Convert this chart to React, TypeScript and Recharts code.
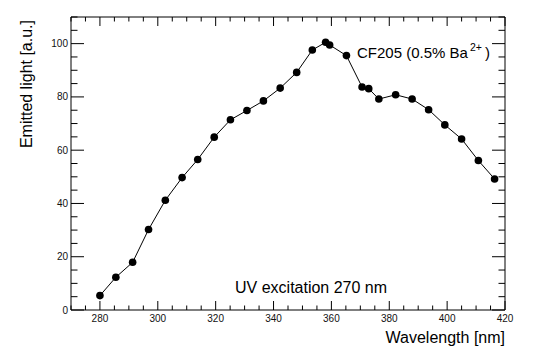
import { LineChart, Line, XAxis, YAxis } from "recharts";

// emission spectrum
const wavelength = [
  280, 285.5, 291.3, 296.8, 302.6, 308.4, 313.8, 319.5, 325.1, 330.8, 336.5, 342.3, 348.0, 353.4,
  358.0, 359.4, 365.2, 370.6, 372.9, 376.4, 382.2, 387.9, 393.6, 399.2, 405.0, 410.8, 416.4,
];
const emitted = [
  5.4, 12.3, 17.9, 30.2, 41.2, 49.7, 56.5, 64.9, 71.4, 74.9, 78.5, 83.3, 89.2, 97.6,
  100.5, 99.5, 95.5, 83.7, 83.1, 79.2, 80.8, 79.2, 75.2, 69.5, 64.2, 56.1, 49.2,
];

// every 5 units; multiples of 20 get a label and a long tick
const xTicks = [
  270, 275, 280, 285, 290, 295, 300, 305, 310, 315, 320, 325, 330, 335, 340, 345, 350, 355, 360,
  365, 370, 375, 380, 385, 390, 395, 400, 405, 410, 415, 420,
];
const yTicks = [0, 5, 10, 15, 20, 25, 30, 35, 40, 45, 50, 55, 60, 65, 70, 75, 80, 85, 90, 95, 100, 105, 110];

const data = wavelength.map((w, i) => ({ w, v: emitted[i] }));

const font = "'Liberation Sans', Arial, Helvetica, sans-serif";
const xDomain = [270, 420];
const yDomain = [0, 110];
const isMajor = (v: number) => v % 20 === 0;

// ROOT draws ticks inward; side says where the axis sits
function Tick(props: any) {
  const { x, y, payload, side } = props;
  const v = payload.value;
  const major = isMajor(v);
  const xl = major ? 9 : 4.5;
  const yl = major ? 13 : 6.5;
  let d = "";
  if (side === "b") d = `M${x},${y}L${x},${y - xl}`;
  if (side === "t") d = `M${x},${y}L${x},${y + xl}`;
  if (side === "l") d = `M${x},${y}L${x + yl},${y}`;
  if (side === "r") d = `M${x},${y}L${x - yl},${y}`;
  return (
    <g>
      <path d={d} stroke="#000" strokeWidth={1} fill="none" />
      {major && side === "b" && v !== 270 && (
        <text x={x} y={y + 12} textAnchor="middle" fontSize={10} fill="#111" fontFamily={font}>
          {v}
        </text>
      )}
      {major && side === "l" && (
        <text x={x - 3} y={y + 3.5} textAnchor="end" fontSize={10} fill="#111" fontFamily={font}>
          {v}
        </text>
      )}
    </g>
  );
}

const axisCommon = { type: "number" as const, interval: 0, tickSize: 0, tickMargin: 0, tickLine: false, axisLine: { stroke: "#000" } };

export default function App() {
  return (
    <div style={{ position: "absolute", left: 0, top: 0, width: 545, height: 357, background: "#fff" }}>
      <LineChart width={545} height={357} data={data} margin={{ top: 16, right: 39, bottom: 17, left: 31 }}>
        <XAxis {...axisCommon} xAxisId="main" dataKey="w" domain={xDomain} ticks={xTicks} height={30} tick={<Tick side="b" />} />
        <XAxis {...axisCommon} xAxisId="top" orientation="top" dataKey="w" domain={xDomain} ticks={xTicks} height={1} tick={<Tick side="t" />} />
        <YAxis {...axisCommon} yAxisId="main" domain={yDomain} ticks={yTicks} width={40} tick={<Tick side="l" />} />
        <YAxis {...axisCommon} yAxisId="right" orientation="right" domain={yDomain} ticks={yTicks} width={1} tick={<Tick side="r" />} />
        {/* invisible copy so the top/right frame axes get a scale */}
        <Line
          xAxisId="top"
          yAxisId="right"
          dataKey="v"
          stroke="none"
          dot={false}
          activeDot={false}
          isAnimationActive={false}
        />
        <Line
          xAxisId="main"
          yAxisId="main"
          dataKey="v"
          type="linear"
          stroke="#000"
          strokeWidth={1}
          dot={{ r: 3.8, fill: "#000", stroke: "#000", strokeWidth: 0 }}
          isAnimationActive={false}
        />
      </LineChart>
      <svg width={545} height={357} style={{ position: "absolute", left: 0, top: 0, pointerEvents: "none" }}>
        <g fontFamily={font} fill="#000" fontSize={16}>
          <text x={505} y={343} textAnchor="end">Wavelength [nm]</text>
          <text x={32} y={20} textAnchor="end" transform="rotate(-90 32 20)">Emitted light [a.u.]</text>
          <text x={235} y={293}>UV excitation 270 nm</text>
          <text x={357} y={58} fontSize={15}>
            CF205 (0.5% Ba<tspan fontSize={10.5} dx={2} dy={-7}>2+</tspan><tspan dx={3} dy={7}>)</tspan>
          </text>
        </g>
      </svg>
    </div>
  );
}
